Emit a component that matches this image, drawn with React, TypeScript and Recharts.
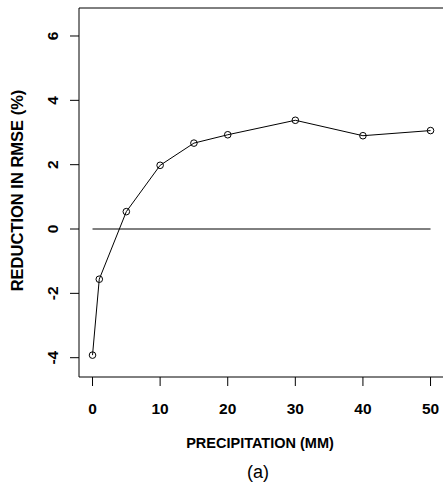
import {
  LineChart,
  Line,
  XAxis,
  YAxis,
  ReferenceArea,
  ReferenceLine,
  Label
} from "recharts";

const precip = [0, 1, 5, 10, 15, 20, 30, 40, 50];
const reduction = [-3.92, -1.56, 0.54, 1.98, 2.67, 2.93, 3.38, 2.9, 3.06];
const xTicks = [0, 10, 20, 30, 40, 50];
const yTicks = [-4, -2, 0, 2, 4, 6];

const xTitle = "PRECIPITATION (MM)";
const yTitle = "REDUCTION IN RMSE (%)";
const caption = "(a)";

const FONT = "'Liberation Sans', Arial, Helvetica, sans-serif";
const xDomain = [-2, 52.14];
const yDomain = [-4.6, 6.87];

function XTick({ x, y, payload }: any) {
  return (
    <text
      x={x}
      y={y + 20}
      textAnchor="middle"
      dominantBaseline="central"
      fontFamily={FONT}
      fontWeight="bold"
      fontSize={15.5}
      fill="#000"
    >
      {payload.value}
    </text>
  );
}

function YTick({ y, payload }: any) {
  const cx = 52.5;
  return (
    <text
      x={cx}
      y={y}
      transform={`rotate(-90, ${cx}, ${y})`}
      textAnchor="middle"
      dy="0.36em"
      fontFamily={FONT}
      fontWeight="bold"
      fontSize={15.5}
      fill="#000"
    >
      {payload.value}
    </text>
  );
}

function XTitle({ viewBox }: any) {
  const cx = viewBox.x + viewBox.width / 2 - 2;
  return (
    <g>
      <text
        x={cx}
        y={443}
        textAnchor="middle"
        dominantBaseline="central"
        fontFamily={FONT}
        fontWeight="bold"
        fontSize={14.5}
        fill="#000"
      >
        {xTitle}
      </text>
      <text
        x={cx - 2}
        y={472}
        textAnchor="middle"
        dominantBaseline="central"
        fontFamily={FONT}
        fontSize={18}
        fill="#000"
      >
        {caption}
      </text>
    </g>
  );
}

function YTitle({ viewBox }: any) {
  const cy = viewBox.y + viewBox.height / 2 - 2;
  const cx = 17;
  return (
    <text
      x={cx}
      y={cy}
      transform={`rotate(-90, ${cx}, ${cy})`}
      textAnchor="middle"
      dy="0.36em"
      fontFamily={FONT}
      fontWeight="bold"
      fontSize={16.5}
      fill="#000"
    >
      {yTitle}
    </text>
  );
}

export default function App() {
  const data = precip.map((p, i) => ({ x: p, y: reduction[i] }));

  return (
    <div
      style={{
        position: "absolute",
        left: 0,
        top: 0,
        width: 443,
        height: 487,
        overflow: "hidden",
        background: "#fff"
      }}
    >
      <LineChart
        width={445}
        height={487}
        data={data}
        margin={{ top: 8, right: 0, left: 0, bottom: 0 }}
      >
        <XAxis
          type="number"
          dataKey="x"
          domain={xDomain}
          ticks={xTicks}
          allowDataOverflow
          height={110}
          axisLine={false}
          tickSize={9}
          tickLine={{ stroke: "#000" }}
          tick={<XTick />}
        >
          <Label content={<XTitle />} />
        </XAxis>
        <YAxis
          type="number"
          dataKey="y"
          domain={yDomain}
          ticks={yTicks}
          allowDataOverflow
          width={79}
          axisLine={false}
          tickSize={9}
          tickLine={{ stroke: "#000" }}
          tick={<YTick />}
        >
          <Label content={<YTitle />} />
        </YAxis>
        <ReferenceArea
          x1={xDomain[0]}
          x2={xDomain[1]}
          y1={yDomain[0]}
          y2={yDomain[1]}
          fill="none"
          stroke="#000"
          strokeWidth={1}
          ifOverflow="visible"
        />
        <ReferenceLine
          segment={[
            { x: 0, y: 0 },
            { x: 50, y: 0 }
          ]}
          stroke="#000"
          strokeWidth={1}
        />
        <Line
          type="linear"
          dataKey="y"
          stroke="#000"
          strokeWidth={1}
          dot={{ r: 3.3, stroke: "#000", strokeWidth: 1, fill: "none" }}
          activeDot={false}
          isAnimationActive={false}
        />
      </LineChart>
    </div>
  );
}
